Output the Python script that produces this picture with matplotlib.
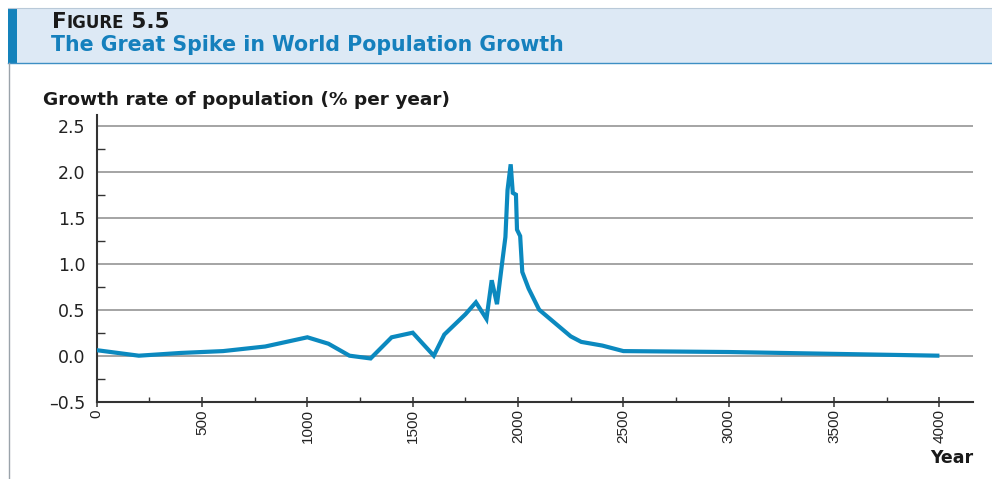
import matplotlib
matplotlib.use("Agg")
import matplotlib.pyplot as plt
from matplotlib.patches import Rectangle
from matplotlib.lines import Line2D
from matplotlib.ticker import FixedLocator

# Growth rate of world population (% per year), historical and projected
years = [0, 200, 400, 600, 800, 1000, 1100, 1200, 1300, 1400, 1500, 1600,
         1650, 1750, 1800, 1850, 1875, 1900, 1925, 1940, 1950, 1965, 1975,
         1990, 1995, 2010, 2020, 2050, 2100, 2250, 2300, 2400, 2500, 3000,
         3500, 4000]
rates = [0.06, 0.0, 0.03, 0.05, 0.10, 0.20, 0.13, 0.0, -0.03, 0.20, 0.25, 0.0,
         0.23, 0.45, 0.58, 0.40, 0.82, 0.56, 1.02, 1.29, 1.80, 2.08, 1.77,
         1.75, 1.37, 1.30, 0.91, 0.73, 0.50, 0.21, 0.15, 0.11, 0.05, 0.04,
         0.02, 0.0]

x_ticks = [0, 500, 1000, 1500, 2000, 2500, 3000, 3500, 4000]
y_ticks = [-0.5, 0.0, 0.5, 1.0, 1.5, 2.0, 2.5]

title = "The Great Spike in World Population Growth"
y_title = "Growth rate of population (% per year)"
x_title = "Year"

W, H = 992, 479
fig = plt.figure(figsize=(W / 100, H / 100), dpi=100)
fig.patch.set_facecolor("white")

def fx(px):
    return px / W

def fy(py):
    return 1 - py / H

# Header band
fig.patches.append(Rectangle((fx(8), fy(63)), 1 - fx(8), fy(8) - fy(63),
                             transform=fig.transFigure, facecolor="#dde9f5",
                             edgecolor="none", zorder=0))
fig.patches.append(Rectangle((fx(8), fy(63)), fx(17) - fx(8), fy(8) - fy(63),
                             transform=fig.transFigure, facecolor="#1482bb",
                             edgecolor="none", zorder=1))
fig.lines.append(Line2D([fx(8), 1], [fy(63), fy(63)], transform=fig.transFigure,
                        color="#3d8fc4", lw=1.0))
fig.lines.append(Line2D([fx(8), 1], [fy(8), fy(8)], transform=fig.transFigure,
                        color="#b9c9d8", lw=0.8))
fig.lines.append(Line2D([fx(8.5), fx(8.5)], [0, fy(63)], transform=fig.transFigure,
                        color="#9aa3aa", lw=1.0))

# Small-caps figure label
base = fy(28)
t1 = fig.text(fx(52), base, "F", fontsize=15.5, fontweight="bold",
              color="#1a1a1a", va="baseline", ha="left")
t2 = fig.text(0, base, "IGURE", fontsize=12, fontweight="bold", color="#1a1a1a",
              va="baseline", ha="left")
t3 = fig.text(0, base, " 5.5", fontsize=15.5, fontweight="bold", color="#1a1a1a",
              va="baseline", ha="left")
fig.canvas.draw()
r = fig.canvas.get_renderer()
bb1 = t1.get_window_extent(r)
t2.set_position((bb1.x1 / W, base))
fig.canvas.draw()
bb2 = t2.get_window_extent(r)
t3.set_position((bb2.x1 / W, base))

fig.text(fx(51), fy(51), title, fontsize=14.8, fontweight="bold",
         color="#1580bd", va="baseline", ha="left")

# Plot area
ax = fig.add_axes([fx(96.7), fy(401.7), fx(972.7) - fx(96.7), fy(115) - fy(401.7)])
ax.set_xlim(0, 4158)
ax.set_ylim(-0.5, 2.616)

for s in ("top", "right"):
    ax.spines[s].set_visible(False)
for s in ("left", "bottom"):
    ax.spines[s].set_color("#333333")
    ax.spines[s].set_linewidth(1.5)

ax.yaxis.set_major_locator(FixedLocator(y_ticks))
ax.yaxis.set_minor_locator(FixedLocator([-0.25, 0.25, 0.75, 1.25, 1.75, 2.25]))
ax.xaxis.set_major_locator(FixedLocator(x_ticks))
ax.xaxis.set_minor_locator(FixedLocator([250, 750, 1250, 1750, 2250, 2750, 3250, 3750]))

ax.set_yticklabels([f"{v:.1f}".replace("-", "\u2013") for v in y_ticks])
ax.set_xticklabels([str(v) for v in x_ticks], rotation=90,
                   family=["Liberation Sans", "DejaVu Sans"])

ax.tick_params(axis="y", which="major", length=0, pad=8, labelsize=12.5,
               labelcolor="#222222")
ax.tick_params(axis="y", which="minor", direction="in", length=5.5, width=1.0,
               color="#333333")
ax.tick_params(axis="x", which="major", direction="inout", length=7, width=1.1,
               color="#333333", pad=2, labelsize=11, labelcolor="#222222")
ax.tick_params(axis="x", which="minor", direction="in", length=3.5, width=1.0,
               color="#333333")

for v in y_ticks[1:]:
    ax.axhline(v, color="#959595", lw=1.2, zorder=1)

ax.plot(years, rates, color="#0b89bf", lw=3.0, solid_joinstyle="miter",
        solid_capstyle="butt", zorder=3)

fig.text(fx(43), fy(100), y_title, fontsize=13.3, fontweight="bold",
         color="#1a1a1a", va="center", ha="left")
fig.text(fx(973), fy(458), x_title, fontsize=12.5, fontweight="bold",
         color="#1a1a1a", va="center", ha="right")

fig.savefig("out.png", dpi=100)
